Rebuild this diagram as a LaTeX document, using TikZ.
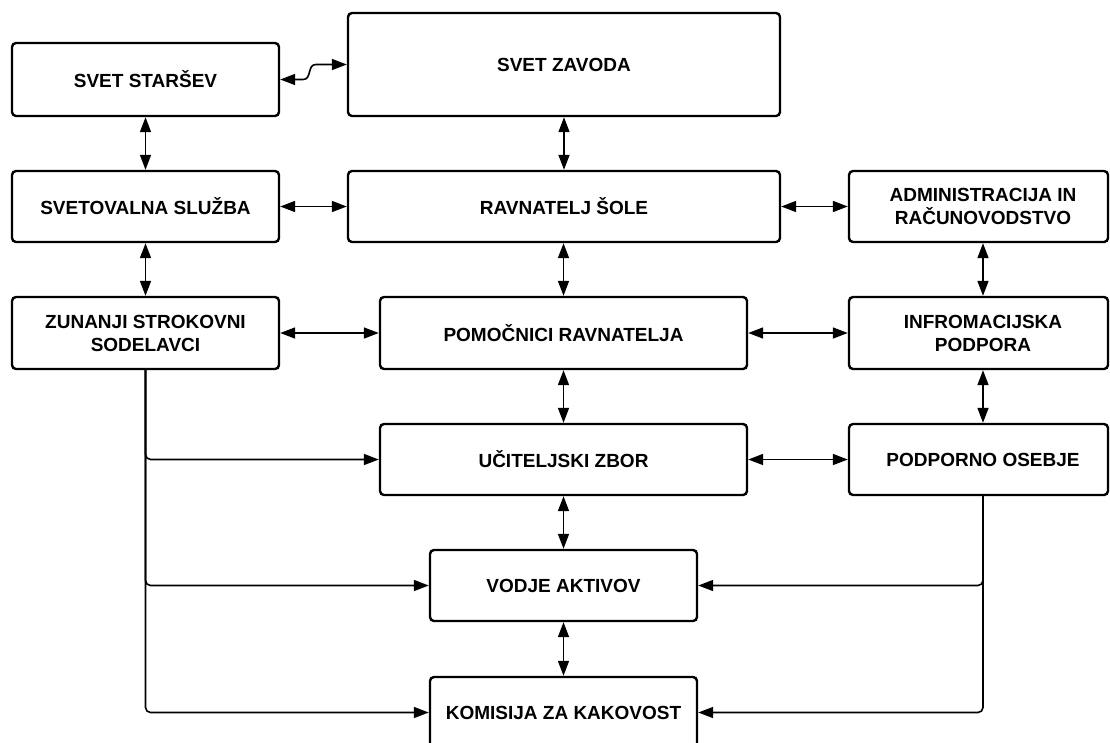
\documentclass[tikz,border=0pt]{standalone}
\usepackage{fontspec}
\setmainfont{Liberation Sans}
\usetikzlibrary{arrows.meta}
\begin{document}
\begin{tikzpicture}[x=1pt,y=-1pt,
  >={Triangle[length=15pt,width=11pt]},
  box/.style={draw, line width=2.4pt, rounded corners=4pt, inner sep=0pt, align=center,
    font=\bfseries\fontsize{19}{23}\selectfont, fill=white},
  lbl/.style={inner sep=0pt, align=center, font=\bfseries\fontsize{19}{23}\selectfont},
  conn/.style={line width=1.6pt, draw=black},
  both/.style={conn, <->},
  one/.style={conn, ->, rounded corners=5pt}]
\useasboundingbox (0,0) rectangle (1110,742);
\begin{scope}
\clip (0,0) rectangle (1110,742);
% boxes
\node[box, minimum width=267pt, minimum height=73pt] (starsev) at (145.5,79.5) {SVET STARŠEV};
\node[box, minimum width=432pt, minimum height=103pt] (zavod) at (564,64.5) {SVET ZAVODA};
\node[box, minimum width=267pt, minimum height=71pt] (svet) at (145.5,206.5) {SVETOVALNA SLUŽBA};
\node[box, minimum width=432pt, minimum height=71pt] (ravn) at (564,206.5) {RAVNATELJ ŠOLE};
\node[box, minimum width=259pt, minimum height=71pt] (admin) at (978.5,206.5) {};
\node[lbl] (admint) at (983,206.5) {ADMINISTRACIJA IN\\RAČUNOVODSTVO};
\node[box, minimum width=267pt, minimum height=72pt] (zun) at (145.5,333) {ZUNANJI STROKOVNI\\SODELAVCI};
\node[box, minimum width=367pt, minimum height=72pt] (pom) at (563.5,333) {POMOČNICI RAVNATELJA};
\node[box, minimum width=259pt, minimum height=72pt] (inf) at (978.5,333) {};
\node[lbl] (inft) at (983,333) {INFROMACIJSKA\\PODPORA};
\node[box, minimum width=367pt, minimum height=71pt] (uc) at (563.5,459.5) {UČITELJSKI ZBOR};
\node[box, minimum width=259pt, minimum height=71pt] (pod) at (978.5,459.5) {};
\node[lbl] (podt) at (983,459.5) {PODPORNO OSEBJE};
\node[box, minimum width=267pt, minimum height=71pt] (vod) at (563.5,585.5) {VODJE AKTIVOV};
\node[box, minimum width=267pt, minimum height=71pt] (kom) at (563.5,712.5) {KOMISIJA ZA KAKOVOST};
\coordinate (rx) at (983,0);
% connectors
\draw[both] (starsev.east) -- (303,79.5) .. controls (312,79.5) and (307,64.5) .. (316,64.5) -- (zavod.west);
\draw[both] (starsev.south) -- (svet.north);
\draw[both] (svet.south) -- (zun.north);
\draw[both] (zavod.south) -- (ravn.north);
\draw[both] (ravn.south -| pom.north) -- (pom.north);
\draw[both] (pom.south) -- (uc.north);
\draw[both] (uc.south) -- (vod.north);
\draw[both] (vod.south) -- (kom.north);
\draw[both] (svet.east) -- (ravn.west);
\draw[both] (ravn.east) -- (admin.west);
\draw[both] (zun.east) -- (pom.west);
\draw[both] (pom.east) -- (inf.west);
\draw[both] (uc.east) -- (pod.west);
\draw[both] (admin.south -| rx) -- (inf.north -| rx);
\draw[both] (inf.south -| rx) -- (pod.north -| rx);
\draw[one] (zun.south) |- (uc.west);
\draw[one] (zun.south) |- (vod.west);
\draw[one] (zun.south) |- (kom.west);
\draw[one] (pod.south -| rx) |- (vod.east);
\draw[one] (pod.south -| rx) |- (kom.east);
\end{scope}
\end{tikzpicture}
\end{document}
